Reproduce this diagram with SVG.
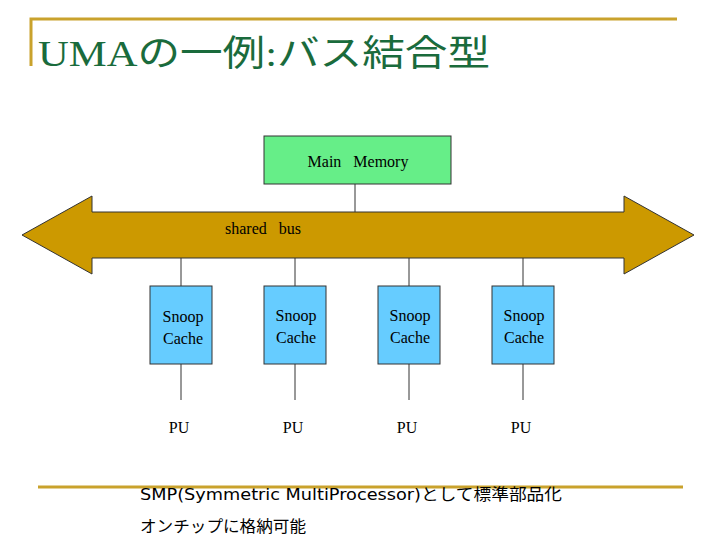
<svg xmlns="http://www.w3.org/2000/svg" width="720" height="540" viewBox="0 0 720 540">
<style>
.rule{stroke:#c9a22c;stroke-width:3;fill:none}
.ln{stroke:#333;stroke-width:1;fill:none}
.cache{fill:#66ccff;stroke:#333;stroke-width:1}
.t{font-family:"Liberation Serif","Noto Sans CJK JP",serif;font-size:16px;fill:#000;white-space:pre}
.b{font-family:"DejaVu Sans","Noto Sans CJK JP",sans-serif;font-size:16px;fill:#000}
</style>
<rect width="720" height="540" fill="#fff"/>
<path class="rule" d="M31 66V19H677"/>
<text x="38" y="66" font-family="Liberation Serif,'Noto Sans CJK JP',serif" font-size="36" fill="#1a6b3c" textLength="452" lengthAdjust="spacingAndGlyphs">UMAの一例:バス結合型</text>
<g id="connectors">
<line class="ln" x1="355" y1="184" x2="355" y2="212"/>
<line class="ln" x1="181" y1="258" x2="181" y2="286"/>
<line class="ln" x1="295" y1="258" x2="295" y2="286"/>
<line class="ln" x1="409" y1="258" x2="409" y2="286"/>
<line class="ln" x1="523" y1="258" x2="523" y2="286"/>
<line class="ln" x1="181" y1="364" x2="181" y2="400"/>
<line class="ln" x1="295" y1="364" x2="295" y2="400"/>
<line class="ln" x1="409" y1="364" x2="409" y2="400"/>
<line class="ln" x1="523" y1="364" x2="523" y2="400"/>
</g>
<g id="bus">
<polygon points="22,235 92,196 92,212 624,212 624,196 694,235 624,274 624,258 92,258 92,274" fill="#cc9900" stroke="#333" stroke-width="1"/>
<text class="t" x="225" y="234">shared   bus</text>
</g>
<g id="memory">
<rect x="264" y="136" width="187" height="48" fill="#66ee88" stroke="#333"/>
<text class="t" x="358" y="167" text-anchor="middle">Main   Memory</text>
</g>
<g id="cache1"><rect class="cache" x="150" y="286" width="62" height="78"/><text class="t" x="183" y="322" text-anchor="middle">Snoop</text><text class="t" x="183" y="344" text-anchor="middle">Cache</text></g>
<g id="cache2"><rect class="cache" x="264" y="286" width="62" height="78"/><text class="t" x="296" y="321" text-anchor="middle">Snoop</text><text class="t" x="296" y="343" text-anchor="middle">Cache</text></g>
<g id="cache3"><rect class="cache" x="378" y="286" width="62" height="78"/><text class="t" x="410" y="321" text-anchor="middle">Snoop</text><text class="t" x="410" y="343" text-anchor="middle">Cache</text></g>
<g id="cache4"><rect class="cache" x="492" y="286" width="62" height="78"/><text class="t" x="524" y="321" text-anchor="middle">Snoop</text><text class="t" x="524" y="343" text-anchor="middle">Cache</text></g>
<g id="pu1"><text class="t" x="179" y="433" text-anchor="middle">PU</text></g>
<g id="pu2"><text class="t" x="293" y="433" text-anchor="middle">PU</text></g>
<g id="pu3"><text class="t" x="407" y="433" text-anchor="middle">PU</text></g>
<g id="pu4"><text class="t" x="521" y="433" text-anchor="middle">PU</text></g>
<line class="rule" x1="38" y1="487" x2="683" y2="487"/>
<text class="b" x="140" y="500" textLength="422" lengthAdjust="spacingAndGlyphs">SMP(Symmetric MultiProcessor)として標準部品化</text>
<text class="b" x="140" y="532" textLength="166" lengthAdjust="spacingAndGlyphs">オンチップに格納可能</text>
</svg>
